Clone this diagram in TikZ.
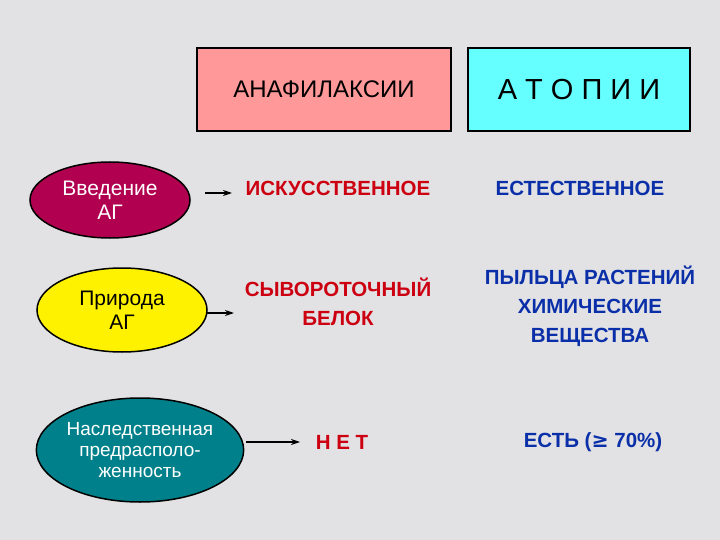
\documentclass[tikz,border=0pt]{standalone}
\usepackage{fontspec}
\setmainfont{Liberation Sans}
\newfontfamily\djvfont{DejaVu Sans}
\usetikzlibrary{shapes.geometric,arrows.meta}
\definecolor{bg}{HTML}{E2E2E4}
\definecolor{pinkbox}{HTML}{FF9999}
\definecolor{cyanbox}{HTML}{66FFFF}
\definecolor{maroon}{HTML}{B0004F}
\definecolor{teal2}{HTML}{00808A}
\definecolor{rtxt}{HTML}{CC0011}
\definecolor{btxt}{HTML}{0A2FA8}
\tikzset{
 hbox/.style={draw=black,line width=1.5pt,minimum width=254pt,minimum height=83pt,font=\fontsize{24}{28}\selectfont},
 oval/.style={ellipse,draw=black,line width=1.5pt,align=center,inner sep=0pt,font=\fontsize{21}{24}\selectfont},
 rt/.style={text=rtxt,font=\bfseries\fontsize{20.5}{29}\selectfont,align=center},
 bt/.style={text=btxt,font=\bfseries\fontsize{20.5}{29}\selectfont,align=center},
 arr/.style={-{Stealth[length=9pt,width=6pt]},line width=1.2pt}
}
\begin{document}
\begin{tikzpicture}[x=1pt,y=-1pt]
\fill[bg] (0,0) rectangle (720,540);
\useasboundingbox (0,0) rectangle (720,540);
\node[hbox,fill=pinkbox] (ana) at (324,89.5) {АНАФИЛАКСИИ};
\node[hbox,fill=cyanbox,minimum width=222pt,font=\fontsize{29}{32}\selectfont] (ato) at (579,89.5) {А Т О П И И};
\node[oval,fill=maroon,text=white,minimum width=160pt,minimum height=76pt] (e1) at (110,200) {Введение\\АГ};
\node[oval,fill=yellow,minimum width=170pt,minimum height=84pt] (e2) at (122,310) {Природа\\АГ};
\node[oval,fill=teal2,text=white,minimum width=200pt,minimum height=104pt,font=\fontsize{19}{21}\selectfont] (e3) at (140,450) {Наследственная\\предрасполо-\\женность};
\node[rt] (r1) at (338,188) {ИСКУССТВЕННОЕ};
\node[bt] (b1) at (580,188) {ЕСТЕСТВЕННОЕ};
\node[rt] (r2) at (338,302) {СЫВОРОТОЧНЫЙ\\БЕЛОК};
\node[bt] (b2) at (590,306) {ПЫЛЬЦА РАСТЕНИЙ\\ХИМИЧЕСКИЕ\\ВЕЩЕСТВА};
\node[rt] (r3) at (342,442) {Н Е Т};
\node[bt] (b3) at (593,442) {ЕСТЬ ({\djvfont ≥} 70\%)};
\coordinate (a1s) at (205,193); \coordinate (a1e) at (232,193);
\coordinate (a2s) at (206,313); \coordinate (a2e) at (234,313);
\coordinate (a3s) at (246,442); \coordinate (a3e) at (300,442);
\draw[arr] (a1s) -- (a1e);
\draw[arr] (a2s) -- (a2e);
\draw[arr] (a3s) -- (a3e);
\end{tikzpicture}
\end{document}
